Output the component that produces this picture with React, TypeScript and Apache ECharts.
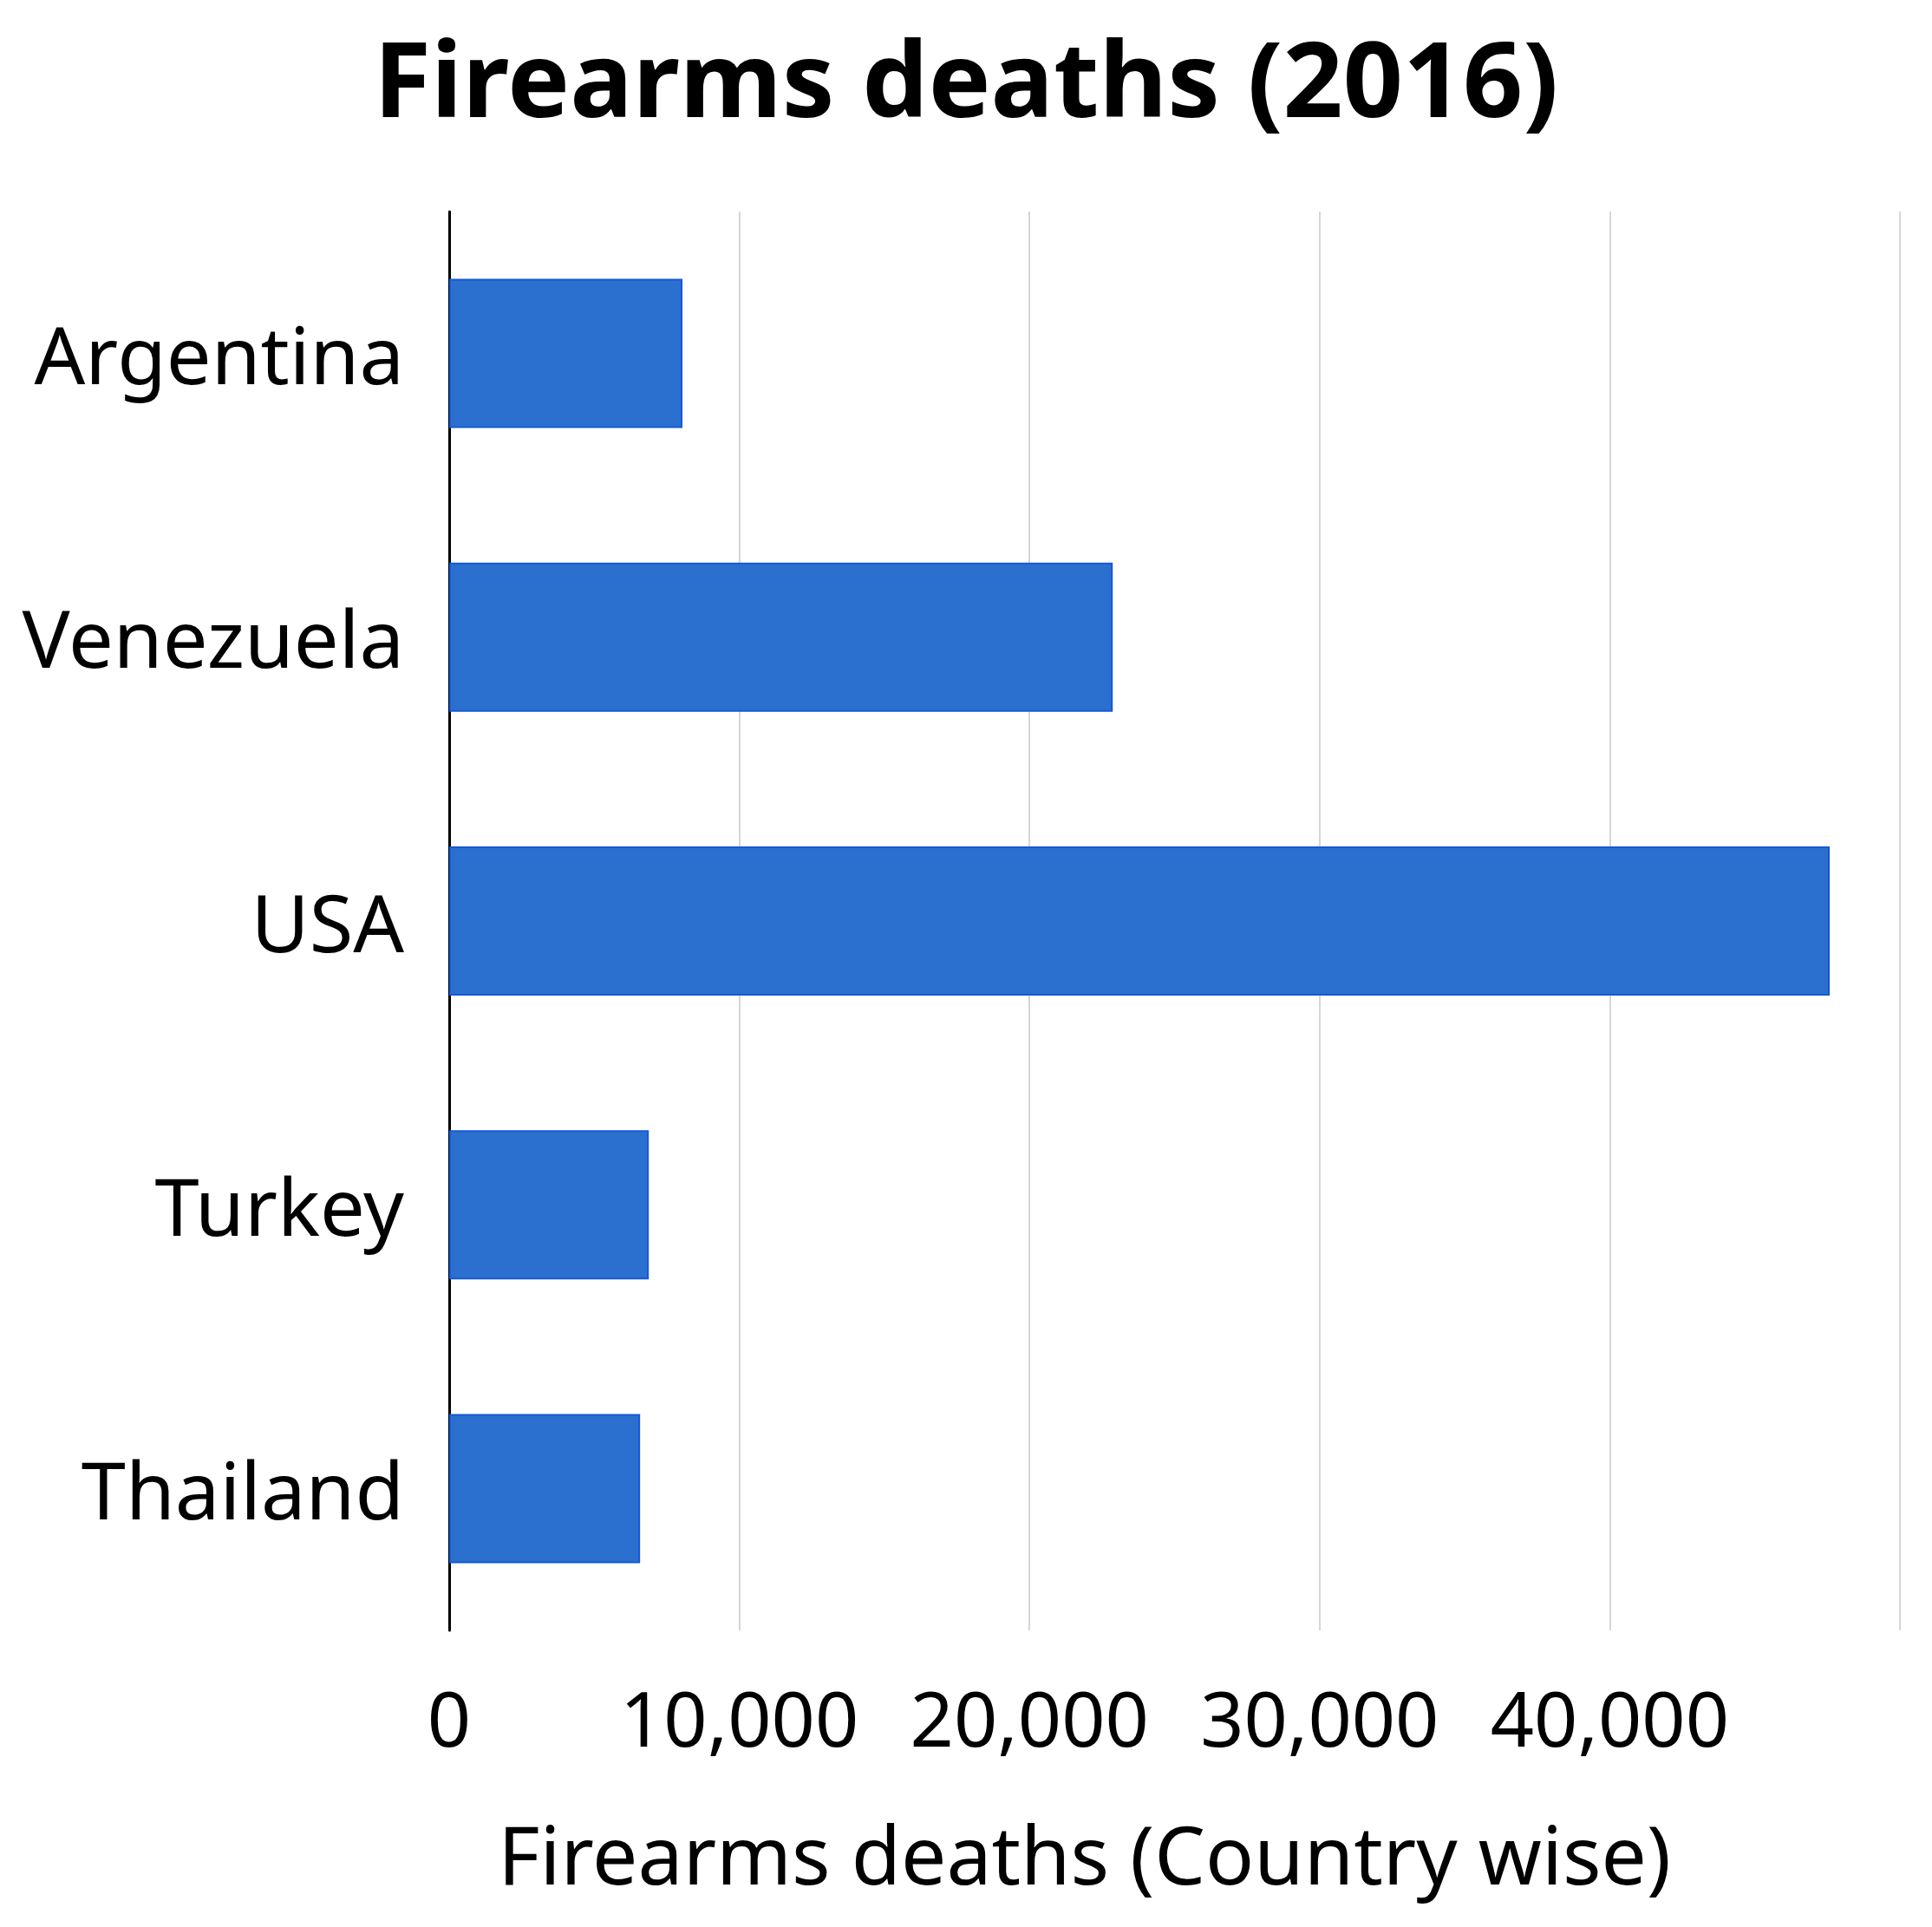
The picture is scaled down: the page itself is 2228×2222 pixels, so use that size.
import React, { useEffect, useRef } from "react";
import * as echarts from "echarts";

const categories = ["Argentina", "Venezuela", "USA", "Turkey", "Thailand"];
const deaths = [8040, 22870, 47580, 6880, 6580];
const xTicks = [0, 10000, 20000, 30000, 40000, 50000];

const FONT = "Noto Sans";

export default function App() {
  const ref = useRef<HTMLDivElement>(null);
  useEffect(() => {
    document.body.style.margin = "0";
    const chart = echarts.init(ref.current!, null, { renderer: "svg" });
    chart.setOption({
      animation: false,
      backgroundColor: "#ffffff",
      title: {
        text: "Firearms deaths (2016)",
        left: "center",
        top: 22,
        textStyle: { fontFamily: FONT, fontSize: 121, fontWeight: "bold", color: "#000" },
      },
      grid: { left: 518, right: 37, top: 244, bottom: 342, containLabel: false },
      xAxis: {
        type: "value",
        min: xTicks[0],
        max: xTicks[xTicks.length - 1],
        interval: 10000,
        name: "Firearms deaths (Country wise)",
        nameLocation: "middle",
        nameGap: 210,
        nameTextStyle: {
          fontFamily: FONT,
          fontSize: 93,
          color: "#000",
          verticalAlign: "top",
          padding: [0, 208, 0, 0],
        },
        axisLine: { show: false },
        axisTick: { show: false },
        axisLabel: {
          fontFamily: FONT,
          fontSize: 88,
          color: "#000",
          margin: 56,
          formatter: (v: number) => (v === 50000 ? "" : v.toLocaleString("en-US")),
        },
        splitLine: { show: true, lineStyle: { color: "#d6d6d6", width: 2 } },
      },
      yAxis: {
        type: "category",
        data: categories,
        inverse: true,
        axisLine: { show: true, lineStyle: { color: "#000", width: 3 } },
        axisTick: { show: false },
        axisLabel: { fontFamily: FONT, fontSize: 92, color: "#000", margin: 52 },
        splitLine: { show: false },
      },
      series: [
        {
          type: "bar",
          data: deaths,
          barWidth: 172,
          itemStyle: { color: "#2B70CF", borderColor: "#1558D6", borderWidth: 2 },
        },
      ],
    });
    return () => chart.dispose();
  }, []);
  return <div ref={ref} style={{ width: 2228, height: 2222 }} />;
}
